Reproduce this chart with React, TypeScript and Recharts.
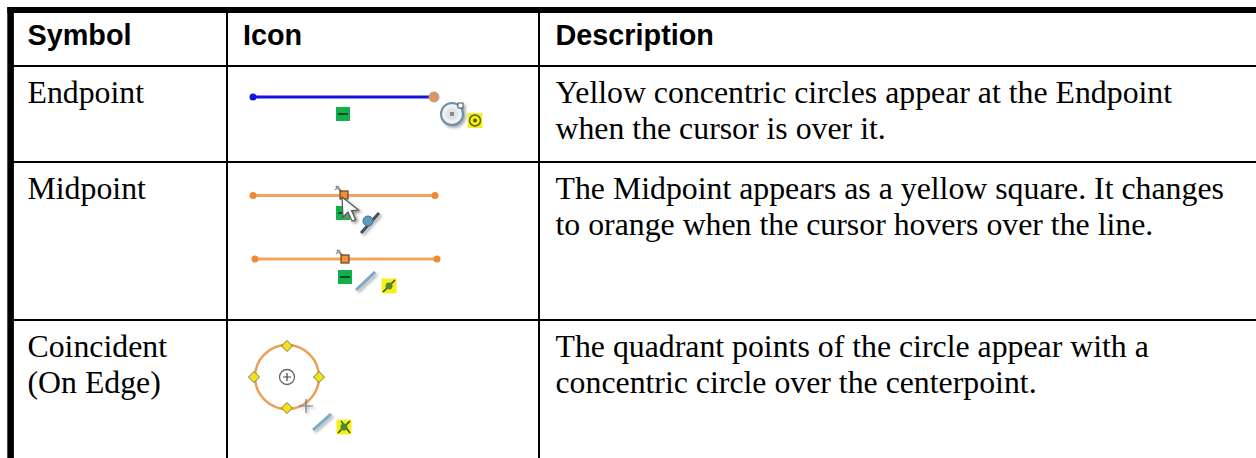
import React from "react";
import { ScatterChart, Scatter, XAxis, YAxis, ReferenceLine } from "recharts";

type P = { x: number; y: number };
type T = P & { text: string };

// table rules (in picture units)
const W = 1256;
const H = 458;
const columnRules = [227, 539];
const rowRules = [66, 162, 320];
const leftEdge = 10.6;
const topEdge = 10;

const headerCells: T[] = [
  { x: 27.5, y: 45, text: "Symbol" },
  { x: 243, y: 45, text: "Icon" },
  { x: 555.5, y: 45, text: "Description" },
];
const bodyCells: T[] = [
  { x: 27.5, y: 103, text: "Endpoint" },
  { x: 555.5, y: 103, text: "Yellow concentric circles appear at the Endpoint" },
  { x: 555.5, y: 139, text: "when the cursor is over it." },
  { x: 27.5, y: 198.5, text: "Midpoint" },
  { x: 555.5, y: 198.5, text: "The Midpoint appears as a yellow square. It changes" },
  { x: 555.5, y: 235, text: "to orange when the cursor hovers over the line." },
  { x: 27.5, y: 356.5, text: "Coincident" },
  { x: 27.5, y: 393, text: "(On Edge)" },
  { x: 555.5, y: 356.5, text: "The quadrant points of the circle appear with a" },
  { x: 555.5, y: 393, text: "concentric circle over the centerpoint." },
];

const blueLine: P[] = [{ x: 253, y: 97 }, { x: 433, y: 97 }];
const orangeLineA: P[] = [{ x: 253, y: 195.5 }, { x: 435, y: 195.5 }];
const orangeLineB: P[] = [{ x: 255, y: 259 }, { x: 437, y: 259 }];
const connectorDark: P[] = [{ x: 361, y: 233 }, { x: 379, y: 213 }];
const relationA: P[] = [{ x: 356, y: 290 }, { x: 375, y: 272 }];
const relationB: P[] = [{ x: 313, y: 430 }, { x: 331, y: 414 }];
const blueDots: P[] = [{ x: 253, y: 97 }];
const orangeDots: P[] = [
  { x: 253, y: 195.5 }, { x: 435, y: 195.5 }, { x: 255, y: 259 }, { x: 437, y: 259 },
];
const endBlob: P[] = [{ x: 434, y: 97 }];
const endRing: P[] = [{ x: 452, y: 114 }];
const greenBoxes: P[] = [{ x: 343, y: 114 }, { x: 343, y: 213 }, { x: 345, y: 277 }];
const yellowRings: P[] = [{ x: 475, y: 120.5 }];
const yellowDiag: P[] = [{ x: 389, y: 286 }];
const yellowCross: P[] = [{ x: 344, y: 427 }];
const midSquares: P[] = [{ x: 344, y: 195 }, { x: 345, y: 259 }];
const cursorArrow: P[] = [{ x: 342, y: 197 }];
const blueBead: P[] = [{ x: 368, y: 221 }];
const bigCircle: P[] = [{ x: 287, y: 377 }];
const diamonds: P[] = [
  { x: 287, y: 346 }, { x: 287, y: 408 }, { x: 254, y: 377 }, { x: 319, y: 377 },
];
const centerMark: P[] = [{ x: 287, y: 377 }];
const crossHair: P[] = [{ x: 306, y: 406 }];

const none = () => <g />;
const soft = { filter: "blur(0.45px)" };
const shaded = { filter: "blur(0.4px) drop-shadow(2px 2px 1.5px #aaa)" };

const headerText = (p: any) => (
  <text x={p.cx} y={p.cy} fontFamily="Liberation Sans" fontWeight={700} fontSize={28.8} fill="#000">
    {p.payload.text}
  </text>
);
const bodyText = (p: any) => (
  <text x={p.cx} y={p.cy} fontFamily="Liberation Serif" fontSize={31.8} fill="#000">
    {p.payload.text}
  </text>
);
const dot = (r: number, fill: string, stroke = "none") => (p: any) => (
  <circle cx={p.cx} cy={p.cy} r={r} fill={fill} stroke={stroke} style={soft} />
);
const ringEnd = (p: any) => (
  <g style={shaded}>
    <circle cx={p.cx} cy={p.cy} r={11} fill="#eef2f5" stroke="#6d8ea8" strokeWidth={2} />
    <circle cx={p.cx} cy={p.cy} r={6} fill="#dfe3e6" />
    <rect x={p.cx - 2} y={p.cy - 2} width={4} height={4} fill="#888" />
    <rect x={p.cx + 6} y={p.cy - 11} width={5} height={5} fill="#fff" stroke="#456" />
  </g>
);
const greenBox = (p: any) => (
  <g style={soft}>
    <rect x={p.cx - 7} y={p.cy - 7} width={14} height={14} fill="#12b04a" />
    <rect x={p.cx - 5} y={p.cy - 1} width={10} height={2} fill="#0a4a22" />
  </g>
);
const yellowBox = (p: any, inner: React.ReactNode) => (
  <g style={soft}>
    <rect x={p.cx - 7.5} y={p.cy - 7.5} width={15} height={15} fill="#f4f01c" />
    {inner}
  </g>
);
const yellowRing = (p: any) =>
  yellowBox(p, (
    <>
      <circle cx={p.cx} cy={p.cy} r={5.5} fill="none" stroke="#5e5e10" strokeWidth={1.5} />
      <circle cx={p.cx} cy={p.cy} r={2} fill="#5e5e10" />
    </>
  ));
const yellowSlash = (p: any) =>
  yellowBox(p, (
    <>
      <line x1={p.cx - 6} y1={p.cy + 6} x2={p.cx + 6} y2={p.cy - 6} stroke="#3a4a20" strokeWidth={1.6} />
      <circle cx={p.cx} cy={p.cy} r={3.5} fill="#4e8a30" />
    </>
  ));
const yellowX = (p: any) =>
  yellowBox(p, (
    <>
      <line x1={p.cx - 6} y1={p.cy + 6} x2={p.cx + 6} y2={p.cy - 6} stroke="#3a4a20" strokeWidth={1.6} />
      <line x1={p.cx - 3} y1={p.cy - 6} x2={p.cx + 6} y2={p.cy + 6} stroke="#3a4a20" strokeWidth={1.4} />
      <circle cx={p.cx} cy={p.cy} r={3.5} fill="#4e8a30" />
    </>
  ));
const midSquare = (p: any) => (
  <g style={soft}>
    <line x1={p.cx - 8} y1={p.cy - 9} x2={p.cx - 1} y2={p.cy - 2} stroke="#888" strokeWidth={2} />
    <line x1={p.cx - 9} y1={p.cy - 5} x2={p.cx - 5} y2={p.cy - 9} stroke="#999" strokeWidth={1.5} />
    <rect x={p.cx - 4} y={p.cy - 4} width={8} height={8} fill="#f09038" stroke="#6a4020" strokeWidth={1.2} />
  </g>
);
const arrow = (p: any) => (
  <path
    d={`M${p.cx} ${p.cy} l1 20 l5 -5 l4 9 l3.5 -1.5 l-4 -9 l7 -0.5 z`}
    fill="#fff"
    stroke="#555"
    strokeWidth={1.2}
    style={{ filter: "drop-shadow(2px 2px 1.5px #888)" }}
  />
);
const bigRing = (p: any) => (
  <circle cx={p.cx} cy={p.cy} r={32} fill="none" stroke="#ee9f55" strokeWidth={2.5} style={soft} />
);
const diamond = (p: any) => (
  <path
    d={`M${p.cx} ${p.cy - 5.5} L${p.cx + 5.5} ${p.cy} L${p.cx} ${p.cy + 5.5} L${p.cx - 5.5} ${p.cy} Z`}
    fill="#f2e21c"
    stroke="#7a7a40"
    strokeWidth={1}
    style={soft}
  />
);
const center = (p: any) => (
  <g style={soft}>
    <circle cx={p.cx} cy={p.cy} r={7.5} fill="none" stroke="#666" strokeWidth={1.3} />
    <path d={`M${p.cx - 4} ${p.cy} h8 M${p.cx} ${p.cy - 4} v8`} stroke="#444" strokeWidth={1.2} />
  </g>
);
const hair = (p: any) => (
  <path
    d={`M${p.cx - 7} ${p.cy} h14 M${p.cx} ${p.cy - 7} v14`}
    stroke="#777"
    strokeWidth={1.2}
    style={{ filter: "drop-shadow(2px 2px 1px #bbb)" }}
  />
);

const seg = (data: P[], stroke: string, strokeWidth: number, key: string, style: any = soft) => (
  <Scatter
    key={key}
    data={data}
    dataKey="y"
    line={{ stroke, strokeWidth, style }}
    shape={none}
    isAnimationActive={false}
  />
);
const marks = (data: P[], shape: any, key: string) => (
  <Scatter key={key} data={data} dataKey="y" shape={shape} isAnimationActive={false} />
);

export default function App() {
  return (
    <div style={{ position: "absolute", left: 0, top: 0, width: W, height: H, background: "#fff" }}>
      <ScatterChart width={W} height={H} margin={{ top: 0, right: 0, bottom: 0, left: 0 }}>
        <XAxis type="number" dataKey="x" domain={[0, W]} hide />
        <YAxis type="number" dataKey="y" domain={[0, H]} reversed hide />
        <ReferenceLine segment={[{ x: 7.3, y: topEdge }, { x: W, y: topEdge }]} stroke="#000" strokeWidth={6} ifOverflow="visible" />
        <ReferenceLine segment={[{ x: leftEdge, y: 7 }, { x: leftEdge, y: H }]} stroke="#000" strokeWidth={6.6} ifOverflow="visible" />
        {rowRules.map((y) => (
          <ReferenceLine key={y} segment={[{ x: 10, y }, { x: W, y }]} stroke="#000" strokeWidth={2} ifOverflow="visible" />
        ))}
        {columnRules.map((x) => (
          <ReferenceLine key={x} segment={[{ x, y: 10 }, { x, y: H }]} stroke="#000" strokeWidth={2} ifOverflow="visible" />
        ))}
        {marks(headerCells, headerText, "h")}
        {marks(bodyCells, bodyText, "b")}
        {seg(blueLine, "#1414dc", 2.8, "s1")}
        {seg(orangeLineA, "#f2a45c", 2.8, "s2")}
        {seg(orangeLineB, "#f2a45c", 2.8, "s3")}
        {seg(connectorDark, "#4a4f55", 3, "s4", shaded)}
        {seg(relationA, "#7aa8c8", 3, "s5", shaded)}
        {seg(relationB, "#7aa8c8", 3, "s6", shaded)}
        {marks(blueDots, dot(3.5, "#1414dc"), "m1")}
        {marks(orangeDots, dot(3.5, "#f08a30"), "m2")}
        {marks(endBlob, dot(5, "#e0935a", "#b0a090"), "m3")}
        {marks(endRing, ringEnd, "m4")}
        {marks(greenBoxes, greenBox, "m5")}
        {marks(yellowRings, yellowRing, "m6")}
        {marks(yellowDiag, yellowSlash, "m7")}
        {marks(yellowCross, yellowX, "m8")}
        {marks(midSquares, midSquare, "m9")}
        {marks(cursorArrow, arrow, "m10")}
        {marks(blueBead, dot(5, "#5a9cc8", "#4a6a80"), "m11")}
        {marks(bigCircle, bigRing, "m12")}
        {marks(diamonds, diamond, "m13")}
        {marks(centerMark, center, "m14")}
        {marks(crossHair, hair, "m15")}
      </ScatterChart>
    </div>
  );
}
